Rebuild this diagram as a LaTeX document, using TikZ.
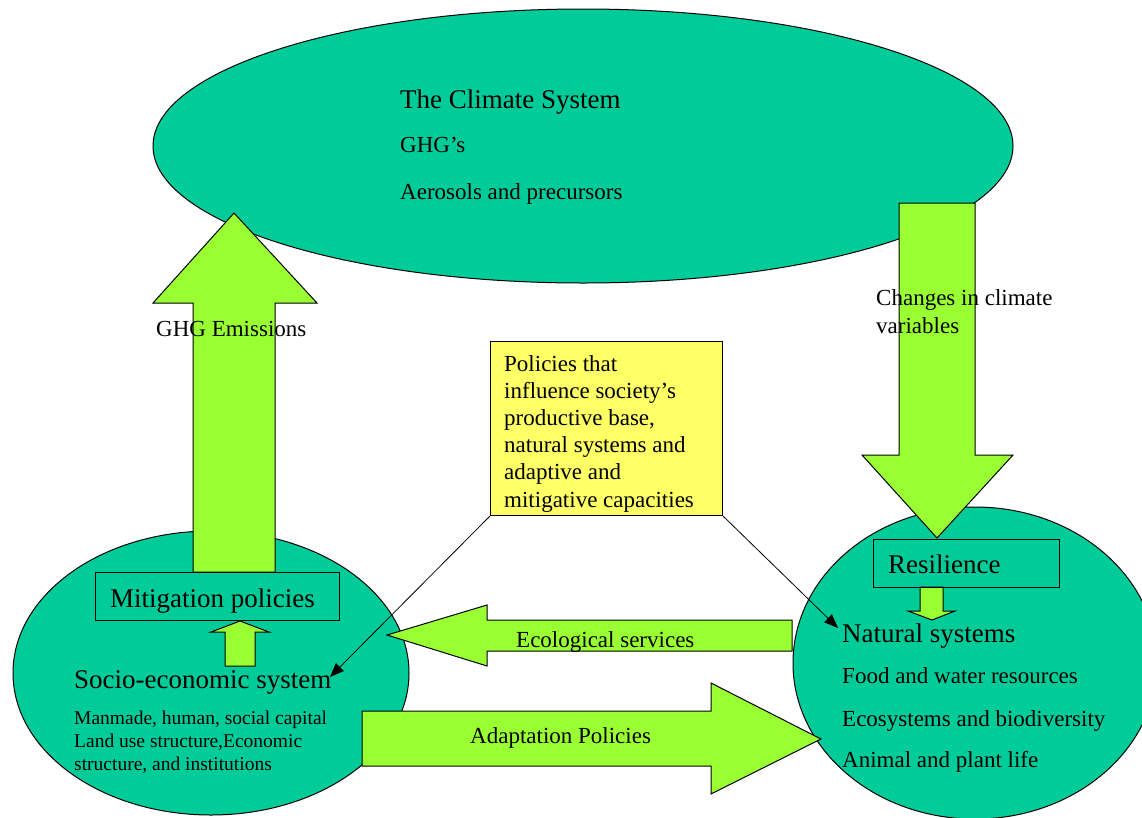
\documentclass[tikz,border=0pt]{standalone}
\usepackage{fontspec}
\setmainfont{Liberation Serif}
\usetikzlibrary{shapes.geometric,arrows.meta}
\definecolor{teal1}{RGB}{0,204,153}
\definecolor{lime1}{RGB}{153,255,51}
\definecolor{yell1}{RGB}{255,255,102}
\tikzset{
  ellnode/.style={ellipse, draw=black, line width=1pt, fill=teal1, inner sep=0pt},
  blockarrow/.style={draw=black, line width=1pt, fill=lime1, line join=miter},
  framebox/.style={draw=black, line width=1pt},
  ptr/.style={draw=black, line width=0.8pt, -{Triangle[length=14pt,width=11pt]}},
  txtL/.style={anchor=base west, inner sep=0pt, font=\fontsize{27}{30}\selectfont},
  txtM/.style={anchor=base west, inner sep=0pt, font=\fontsize{23}{27}\selectfont},
  txtS/.style={anchor=base west, inner sep=0pt, font=\fontsize{19.5}{23}\selectfont}
}
\begin{document}
\begin{tikzpicture}[x=1pt,y=-1pt]
\useasboundingbox (0,0) rectangle (1142,817);
% ellipses
\node[ellnode, minimum width=860pt, minimum height=274pt] (climate) at (583,146) {};
\node[ellnode, minimum width=396pt, minimum height=284pt] (socio) at (211,673) {};
\node[ellnode, minimum width=364pt, minimum height=312pt] (natural) at (975,663) {};
% block arrows
\draw[blockarrow] (193,572) -- (193,303) -- (153,303) -- (234,213) -- (317,303) -- (275,303) -- (275,572) -- cycle;
\draw[blockarrow] (899,203) -- (975,203) -- (975,455) -- (1013,455) -- (937,538) -- (862,455) -- (899,455) -- cycle;
\draw[blockarrow] (225,666) -- (225,632) -- (211,632) -- (240,621) -- (269,632) -- (255,632) -- (255,666) -- cycle;
\draw[blockarrow] (920,587) -- (943,587) -- (943,611) -- (955,611) -- (932,620) -- (908,611) -- (920,611) -- cycle;
\draw[blockarrow] (792,620) -- (487,620) -- (487,605) -- (387,635) -- (487,666) -- (487,651) -- (792,651) -- cycle;
\draw[blockarrow] (362,711) -- (711,711) -- (711,683) -- (821,739) -- (711,794) -- (711,766) -- (362,766) -- cycle;
% boxes
\node[framebox, minimum width=244pt, minimum height=48pt, inner sep=0pt, anchor=north west] (mitbox) at (95,572) {};
\node[framebox, minimum width=186pt, minimum height=48pt, inner sep=0pt, anchor=north west] (resbox) at (873,539) {};
\node[draw=black, line width=1pt, fill=yell1, minimum width=232pt, minimum height=174pt, inner sep=0pt, anchor=north west] (policy) at (490,341) {};
% texts
\node[txtL] (t1) at (400,108) {The Climate System};
\node[txtM] (t2) at (400,152) {GHG’s};
\node[txtM] (t3) at (400,199) {Aerosols and precursors};
\node[txtM] (ghgem) at (156,336) {GHG Emissions};
\node[txtM] (chg) at (876,305) {\parbox[t]{250pt}{\fontsize{23}{28}\selectfont Changes in climate\\ variables}};
\node[txtM] (poltxt) at (504,371) {\parbox[t]{220pt}{\fontsize{23}{27.2}\selectfont Policies that\\ influence society’s\\ productive base,\\ natural systems and\\ adaptive and\\ mitigative capacities}};
\node[txtL] (mittxt) at (110,607) {Mitigation policies};
\node[txtL] (socitxt) at (74,688) {Socio-economic system};
\node[txtS] (socdet) at (74,724) {\parbox[t]{280pt}{\fontsize{19.5}{23}\selectfont Manmade, human, social capital\\ Land use structure,Economic\\ structure, and institutions}};
\node[txtL] (restxt) at (888,573) {Resilience};
\node[txtL] (nattxt) at (842,642) {Natural systems};
\node[txtM] (n1) at (842,683) {Food and water resources};
\node[txtM] (n2) at (842,726) {Ecosystems and biodiversity};
\node[txtM] (n3) at (842,767) {Animal and plant life};
\node[txtM] (eco) at (516,647) {Ecological services};
\node[txtM] (adap) at (470,743) {Adaptation Policies};
% pointers
\coordinate (socpt) at (330,677);
\coordinate (natpt) at (838,628);
\draw[ptr] (policy.south west) -- (socpt);
\draw[ptr] (policy.south east) -- (natpt);
\end{tikzpicture}
\end{document}
